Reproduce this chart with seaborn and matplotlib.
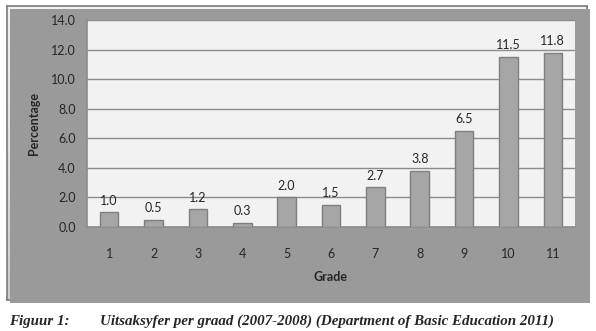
import numpy as np
import pandas as pd
import matplotlib
matplotlib.use("Agg")
import matplotlib.pyplot as plt
import seaborn as sns
from matplotlib.patches import Rectangle

# data
grades = ["1", "2", "3", "4", "5", "6", "7", "8", "9", "10", "11"]
percent = [1.0, 0.5, 1.2, 0.3, 2.0, 1.5, 2.7, 3.8, 6.5, 11.5, 11.8]
yticks = [0, 2, 4, 6, 8, 10, 12, 14]

df = pd.DataFrame({"Grade": grades, "Percentage": percent})

sns.set_style("white")
plt.rcParams["font.family"] = ["Lato", "DejaVu Sans"]

fig = plt.figure(figsize=(5.96, 3.31), dpi=100)
W, H = 596, 331

# shadow + gradient background of the chart frame
fx0, fy0, fx1, fy1 = 7, 6, 587, 300
fig.patches.append(Rectangle(((fx0 + 3) / W, 1 - (fy1 + 3) / H), (fx1 - fx0) / W, (fy1 - fy0) / H,
                             transform=fig.transFigure, facecolor="#9a9a9a", edgecolor="none", zorder=0))
bg = fig.add_axes([fx0 / W, 1 - fy1 / H, (fx1 - fx0) / W, (fy1 - fy0) / H], zorder=0)
grad = np.linspace(0.95, 0.80, 256).reshape(-1, 1)
bg.imshow(grad, aspect="auto", cmap="gray", vmin=0, vmax=1, extent=[0, 1, 0, 1])
bg.set_xticks([])
bg.set_yticks([])
for s in bg.spines.values():
    s.set_color("#7a7a7a")
    s.set_linewidth(1.2)

ax = fig.add_axes([87 / W, 1 - 227 / H, (575 - 87) / W, (227 - 20) / H], zorder=1)
ax.set_facecolor("#f2f2f2")

sns.barplot(data=df, x="Grade", y="Percentage", color="#a6a6a6", width=0.42,
            edgecolor="#7f7f7f", linewidth=1, saturation=1, ax=ax, zorder=3)
ax.bar_label(ax.containers[0], fmt="%.1f", padding=4, fontsize=9, color="#262626")

ax.set_ylim(0, 14)
ax.set_xlim(-0.5, len(grades) - 0.5)
ax.set_yticks(yticks)
ax.set_yticklabels([f"{v:.1f}" for v in yticks], fontsize=9, color="#262626")
ax.yaxis.grid(True, color="#8c8c8c", linewidth=1)
ax.set_axisbelow(True)
ax.tick_params(axis="y", length=4, width=1, color="#8c8c8c", direction="out", pad=4)
ax.tick_params(axis="x", which="major", length=0, pad=15, labelsize=9, labelcolor="#262626")
ax.set_xticks(np.arange(-0.5, len(grades), 1), minor=True)
ax.tick_params(axis="x", which="minor", length=4, width=1, color="#8c8c8c", direction="out")

for side in ["top", "right"]:
    ax.spines[side].set_visible(False)
for side in ["left", "bottom"]:
    ax.spines[side].set_color("#8c8c8c")
    ax.spines[side].set_linewidth(1.2)

ax.set_xlabel("Grade", fontsize=9, fontweight="bold", color="#262626", labelpad=8)
ax.set_ylabel("Percentage", fontsize=9, fontweight="bold", color="#262626", labelpad=8)

fig.text(9 / W, 1 - 321 / H, "Figuur 1:", family="Liberation Serif", style="italic",
         fontweight="bold", fontsize=10.8, va="center", ha="left")
fig.text(100 / W, 1 - 321 / H, "Uitsaksyfer per graad (2007-2008) (Department of Basic Education 2011)",
         family="Liberation Serif", style="italic", fontweight="bold", fontsize=10.8, va="center", ha="left")

fig.savefig("out.png", dpi=100)
